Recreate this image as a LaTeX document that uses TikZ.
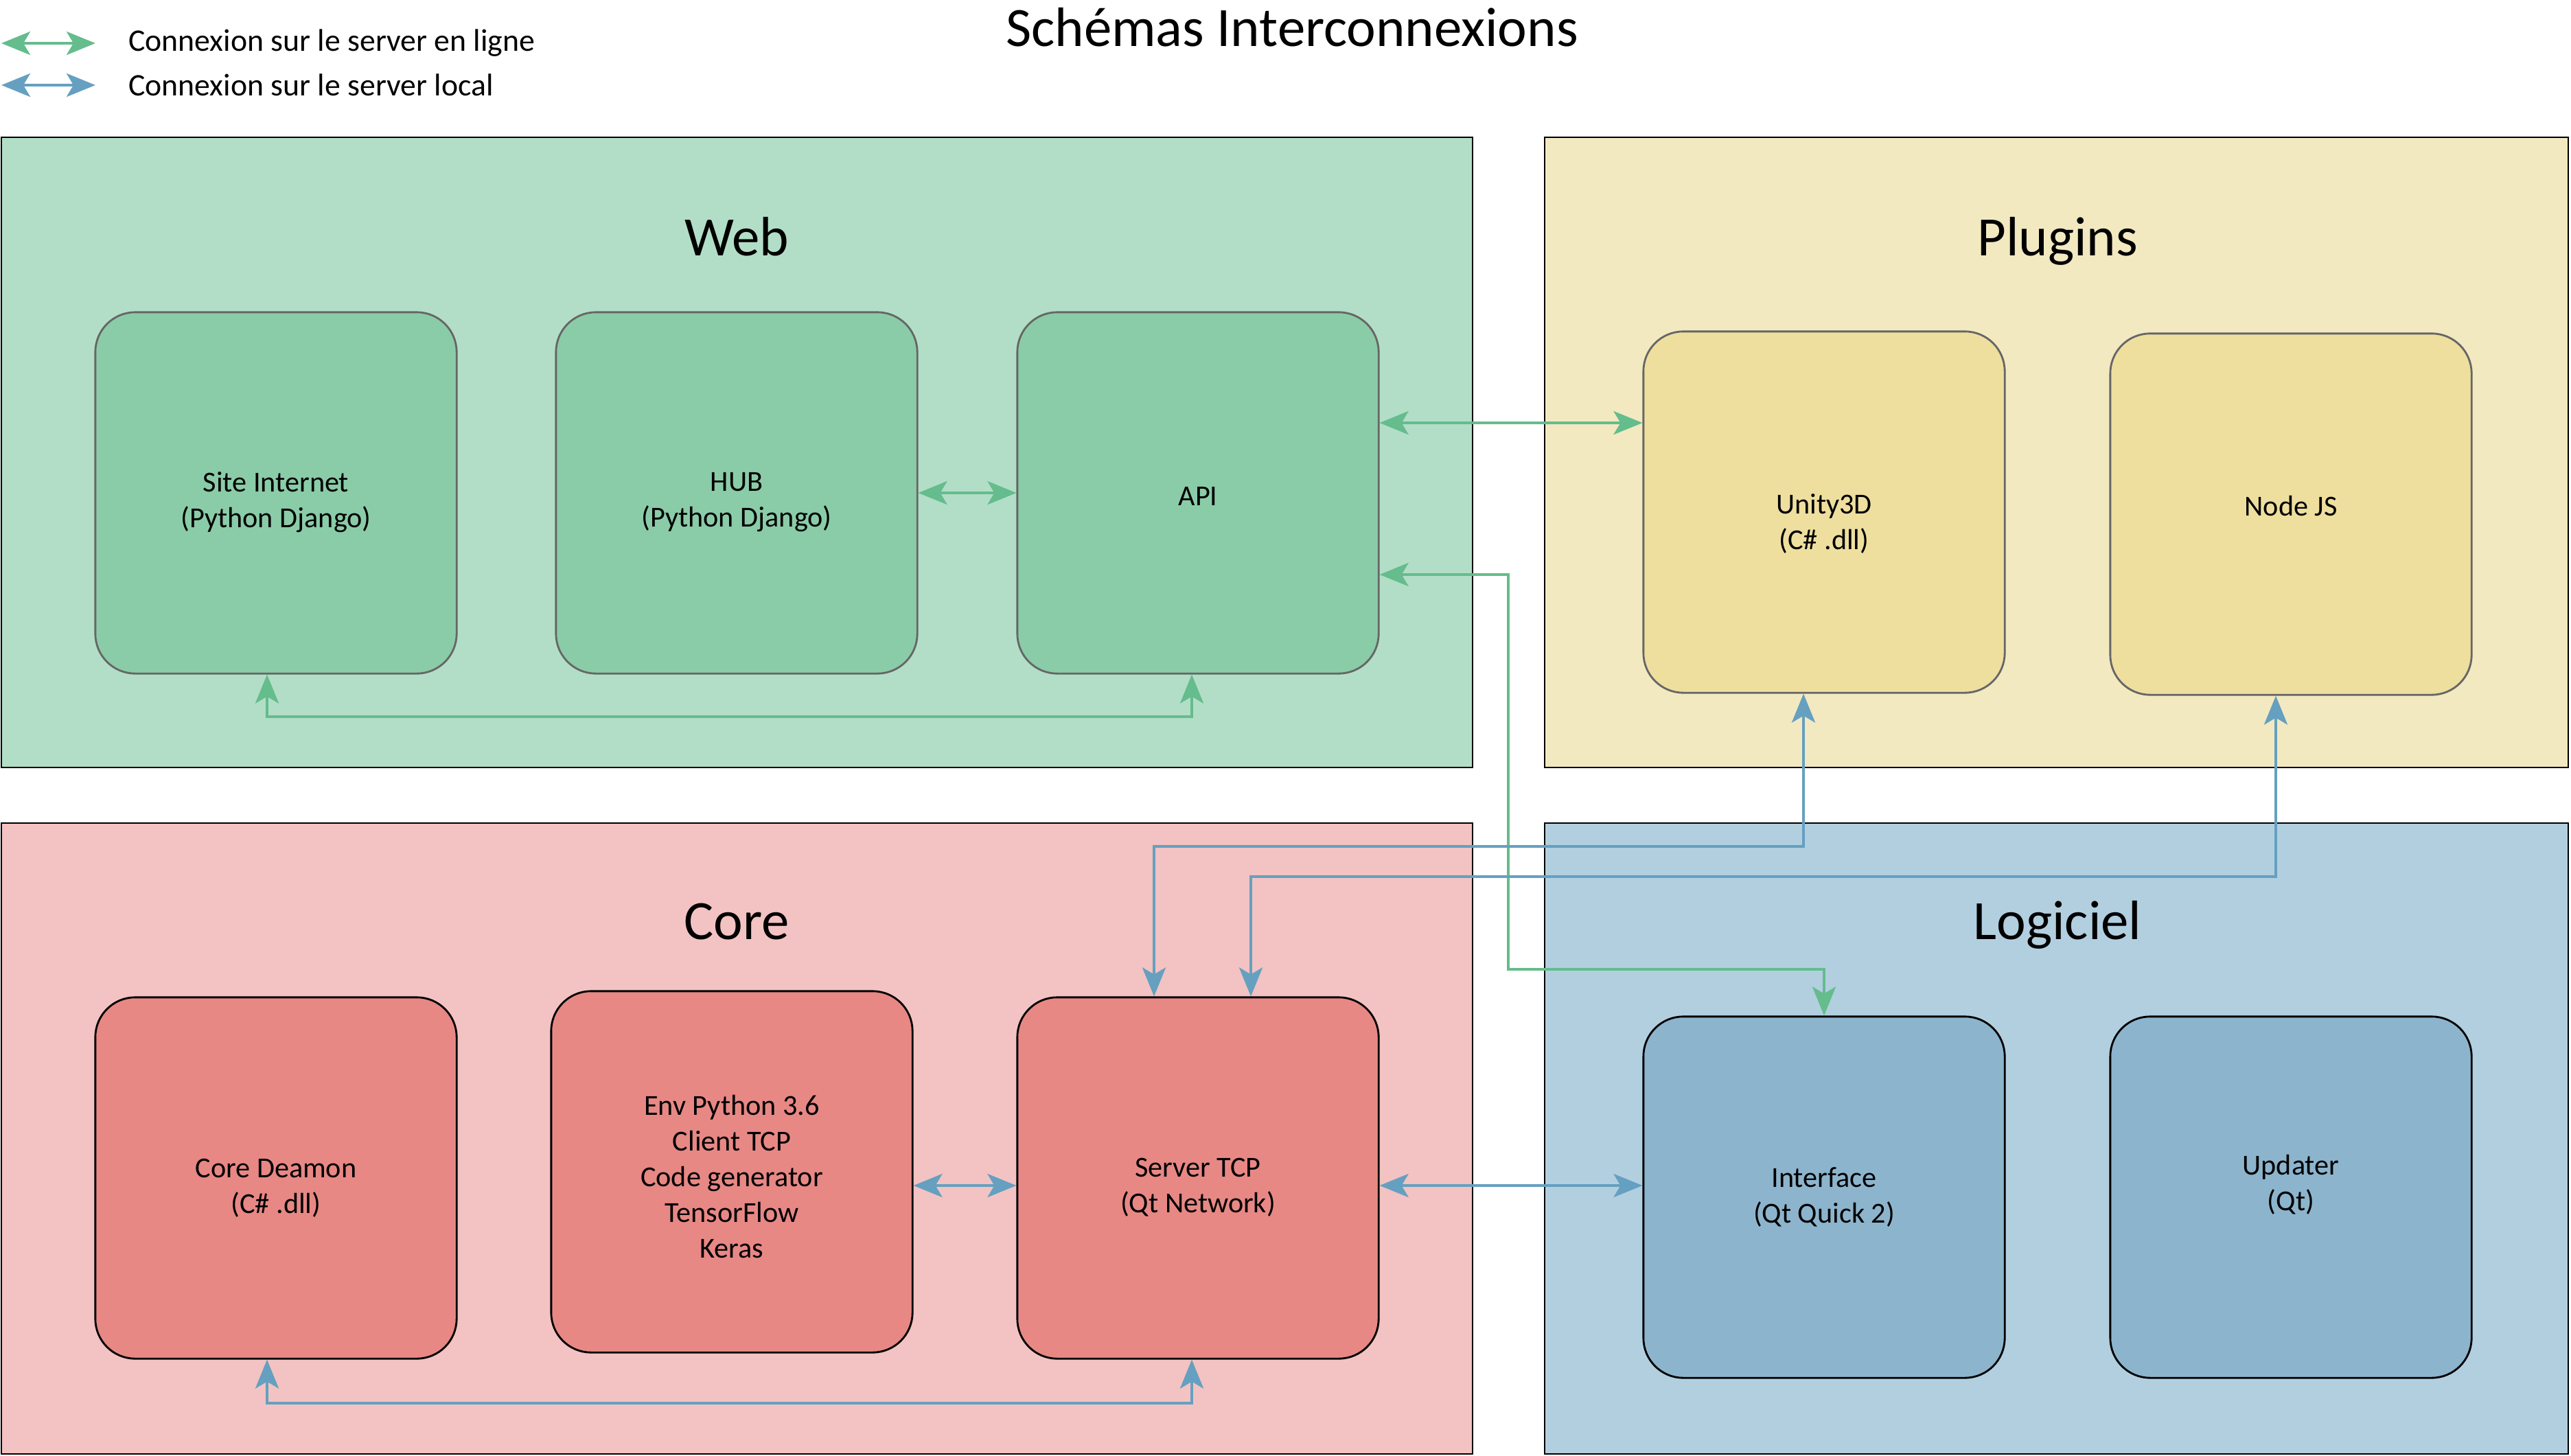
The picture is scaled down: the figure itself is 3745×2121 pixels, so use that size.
\documentclass[tikz,border=0pt]{standalone}
\usepackage{fontspec}
\setmainfont{Carlito}
\usetikzlibrary{arrows.meta}
\definecolor{webbg}{HTML}{B2DEC7}
\definecolor{webbox}{HTML}{8ACCA8}
\definecolor{plugbg}{HTML}{F2E9C1}
\definecolor{plugbox}{HTML}{EEDF9F}
\definecolor{corebg}{HTML}{F2C3C2}
\definecolor{corebox}{HTML}{E78885}
\definecolor{logbg}{HTML}{B2CFE0}
\definecolor{logbox}{HTML}{8DB4CD}
\definecolor{lgreen}{HTML}{65BC8C}
\definecolor{lblue}{HTML}{65A0C0}
\begin{document}
\begin{tikzpicture}[x=0.01cm,y=-0.01cm,
  box/.style={draw,rounded corners=0.58cm,minimum width=5.26cm,minimum height=5.26cm,line width=0.8pt},
  txt/.style={align=center,font=\fontsize{12}{14.8}\selectfont},
  ttl/.style={font=\fontsize{23}{28}\selectfont},
  lnk/.style={line width=1.2pt,{Stealth[length=0.42cm,width=0.34cm,inset=0.1cm]}-{Stealth[length=0.42cm,width=0.34cm,inset=0.1cm]}},
  online/.style={lnk,draw=lgreen},
  local/.style={lnk,draw=lblue}]
\useasboundingbox (0,0) rectangle (3745,2121);
\filldraw [fill=webbg, line width=0.6pt] (2,200) rectangle (2145,1118);
\filldraw [fill=plugbg, line width=0.6pt] (2250,200) rectangle (3741,1118);
\filldraw [fill=corebg, line width=0.6pt] (2,1199) rectangle (2145,2118);
\filldraw [fill=logbg, line width=0.6pt] (2250,1199) rectangle (3741,2118);
\node[ttl] (title) at (1882,40) {Schémas Interconnexions};
\node[ttl,anchor=base] (tweb) at (1073,372) {Web};
\node[ttl,anchor=base] (tplug) at (2997,372) {Plugins};
\node[ttl,anchor=base] (tcore) at (1073,1368) {Core};
\node[ttl,anchor=base] (tlog) at (2997,1368) {Logiciel};
\coordinate (ga) at (2,63);
\coordinate (gb) at (139,63);
\coordinate (ba) at (2,124);
\coordinate (bb) at (139,124);
\draw[online] (ga) -- (gb);
\draw[local] (ba) -- (bb);
\node[anchor=west,font=\fontsize{13}{16}\selectfont] (legon) at (175,63) {Connexion sur le server en ligne};
\node[anchor=west,font=\fontsize{13}{16}\selectfont] (legloc) at (175,124) {Connexion sur le server local};
\node[box,fill=webbox,draw=black!60,label={[txt,yshift=-0.14cm]center:Site Internet\\(Python Django)}] (site) at (402,718) {};
\node[box,fill=webbox,draw=black!60,label={[txt,yshift=-0.14cm]center:HUB\\(Python Django)}] (hub) at (1073,718) {};
\node[box,fill=webbox,draw=black!60,label={[txt,yshift=-0.05cm]center:API}] (api) at (1745,718) {};
\node[box,fill=plugbox,draw=black!60,label={[txt,yshift=-0.17cm]center:Unity3D\\(C\# .dll)}] (unity) at (2657,746) {};
\node[box,fill=plugbox,draw=black!60,label={[txt,yshift=0.12cm]center:Node JS}] (node) at (3337,749) {};
\node[box,fill=corebox,label={[txt,yshift=-0.15cm]center:Core Deamon\\(C\# .dll)}] (deamon) at (402,1716) {};
\node[box,fill=corebox,label={[txt,yshift=-0.07cm]center:Env Python 3.6\\Client TCP\\Code generator\\TensorFlow\\Keras}] (env) at (1066,1707) {};
\node[box,fill=corebox,label={[txt,yshift=-0.14cm]center:Server TCP\\(Qt Network)}] (tcp) at (1745,1716) {};
\node[box,fill=logbox,label={[txt]center:Interface\\(Qt Quick 2)}] (iface) at (2657,1744) {};
\node[box,fill=logbox,label={[txt,yshift=0.18cm]center:Updater\\(Qt)}] (upd) at (3337,1744) {};
\coordinate (r1) at (0,616);
\coordinate (r2) at (0,837);
\coordinate (r3) at (0,1727);
\coordinate (bend) at (2197,1412);
\coordinate (ux) at (2627,1233);
\coordinate (sx1) at (1681,1233);
\coordinate (nx) at (3315,1277);
\coordinate (sx2) at (1822,1277);
\coordinate (wa) at (389,1044);
\coordinate (wb) at (1736,1044);
\coordinate (ca) at (389,2044);
\coordinate (cb) at (1736,2044);
\draw[online] (hub) -- (api);
\draw[online] (site.south -| wa) -- (wa) -- (wb) -- (api.south -| wb);
\draw[online] (api.east |- r1) -- (unity.west |- r1);
\draw[online] (api.east |- r2) -| (bend) -| (iface.north);
\draw[local] (unity.south -| ux) -- (ux) -- (sx1) -- (tcp.north -| sx1);
\draw[local] (node.south -| nx) -- (nx) -- (sx2) -- (tcp.north -| sx2);
\draw[local] (env.east |- r3) -- (tcp.west |- r3);
\draw[local] (tcp.east |- r3) -- (iface.west |- r3);
\draw[local] (deamon.south -| ca) -- (ca) -- (cb) -- (tcp.south -| cb);
\end{tikzpicture}
\end{document}
